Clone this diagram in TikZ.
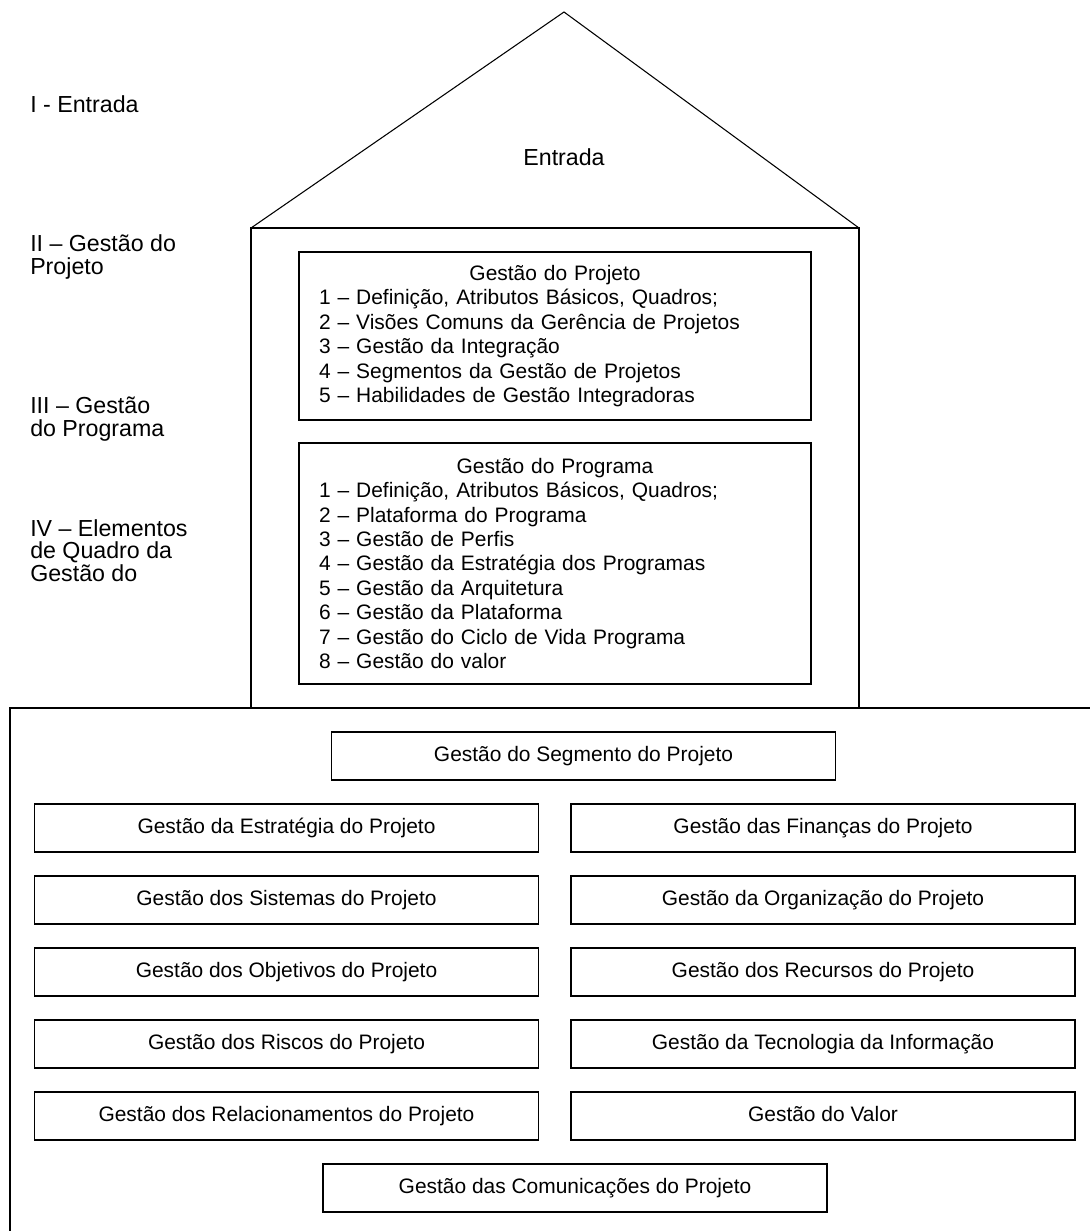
\documentclass[tikz,border=0pt]{standalone}
\usepackage{fontspec}
\setmainfont{Liberation Sans}
\begin{document}
\begin{tikzpicture}[x=0.75pt,y=-0.75pt,
    font=\fontsize{15.7}{18.3}\selectfont,
    wall/.style={line width=1.2pt, line join=miter},
    roofline/.style={line width=0.8pt},
    listbox/.style={draw, line width=1.2pt, minimum width=384pt, text width=354pt,
        inner xsep=15pt, align=left},
    cellbox/.style={draw, line width=1.2pt, minimum width=378pt, minimum height=36pt,
        inner sep=0pt, align=center, text height=11.5pt, text depth=3.3pt},
    sidelabel/.style={anchor=west, align=left, inner sep=0pt,
        font=\fontsize{17.4}{16.9}\selectfont}]
\useasboundingbox (0,0) rectangle (1089,1231);

% roof and walls of the house
\coordinate (apex) at (564,12);
\coordinate (eaveL) at (251,228);
\coordinate (eaveR) at (859,228);
\coordinate (footL) at (251,708);
\coordinate (footR) at (859,708);
\draw[roofline] (eaveL) -- (apex) -- (eaveR);
\draw[wall] (footL) -- (eaveL) -- (eaveR) -- (footR);
\node[font=\fontsize{17.4}{18.3}\selectfont] (entrada) at (564,157) {Entrada};

% foundation frame, running past the right and bottom edges
\coordinate (baseR) at (1100,708);
\coordinate (baseTL) at (10,708);
\coordinate (baseB) at (10,1245);
\draw[wall] (baseR) -- (baseTL) -- (baseB);

% level labels
\node[sidelabel] (lvl1) at (30,104) {I - Entrada};
\node[sidelabel] (lvl2) at (30,257) {II – Gestão do\\Projeto};
\node[sidelabel] (lvl3) at (30,419) {III – Gestão\\do Programa};
\node[sidelabel] (lvl4) at (30,550.5) {IV – Elementos\\de Quadro da\\Gestão do};

% project and programme boxes
\node[listbox, minimum height=126pt] (projeto) at (555,336) {%
  \makebox[354pt]{Gestão do Projeto}\\
  1 – Definição, Atributos Básicos, Quadros;\\
  2 – Visões Comuns da Gerência de Projetos\\
  3 – Gestão da Integração\\
  4 – Segmentos da Gestão de Projetos\\
  5 – Habilidades de Gestão Integradoras};
\node[listbox, minimum height=180.75pt] (programa) at (555,563.5) {%
  \makebox[354pt]{Gestão do Programa}\\
  1 – Definição, Atributos Básicos, Quadros;\\
  2 – Plataforma do Programa\\
  3 – Gestão de Perfis\\
  4 – Gestão da Estratégia dos Programas\\
  5 – Gestão da Arquitetura\\
  6 – Gestão da Plataforma\\
  7 – Gestão do Ciclo de Vida Programa\\
  8 – Gestão do valor};

% segment management boxes
\node[cellbox] (segmento) at (583.5,756) {Gestão do Segmento do Projeto};
\node[cellbox] (estrategia) at (286.5,828) {Gestão da Estratégia do Projeto};
\node[cellbox] (financas) at (823,828) {Gestão das Finanças do Projeto};
\node[cellbox] (sistemas) at (286.5,900) {Gestão dos Sistemas do Projeto};
\node[cellbox] (organizacao) at (823,900) {Gestão da Organização do Projeto};
\node[cellbox] (objetivos) at (286.5,972) {Gestão dos Objetivos do Projeto};
\node[cellbox] (recursos) at (823,972) {Gestão dos Recursos do Projeto};
\node[cellbox] (riscos) at (286.5,1044) {Gestão dos Riscos do Projeto};
\node[cellbox] (tecnologia) at (823,1044) {Gestão da Tecnologia da Informação};
\node[cellbox] (relacionamentos) at (286.5,1116) {Gestão dos Relacionamentos do Projeto};
\node[cellbox] (valor) at (823,1116) {Gestão do Valor};
\node[cellbox] (comunicacoes) at (575,1188) {Gestão das Comunicações do Projeto};
\end{tikzpicture}
\end{document}
